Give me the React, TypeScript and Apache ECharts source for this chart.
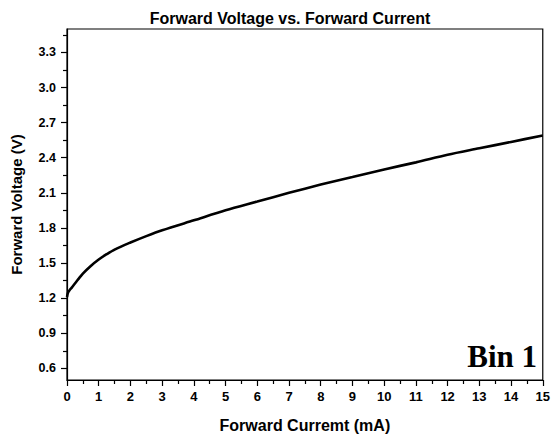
import React, { useEffect, useRef } from "react";
import * as echarts from "echarts";

const currentMA: number[] = [0, 0.03, 0.08, 0.15, 0.25, 0.35, 0.5, 0.75, 1, 1.25, 1.5, 2, 2.5, 3, 4, 5, 6, 7, 8, 9, 10, 11, 12, 13, 14, 15];
const voltageV: number[] = [1.21, 1.245, 1.268, 1.29, 1.325, 1.36, 1.41, 1.475, 1.53, 1.575, 1.615, 1.675, 1.73, 1.78, 1.865, 1.95, 2.025, 2.1, 2.17, 2.235, 2.3, 2.36, 2.425, 2.48, 2.535, 2.59];
const yMajorTicks: number[] = [0.6, 0.9, 1.2, 1.5, 1.8, 2.1, 2.4, 2.7, 3.0, 3.3];
const yMinorTicks: number[] = [0.75, 1.05, 1.35, 1.65, 1.95, 2.25, 2.55, 2.85, 3.15, 3.45];

const FONT = "'Liberation Sans', Arial, Helvetica, sans-serif";

export default function App() {
  const ref = useRef<HTMLDivElement>(null);
  useEffect(() => {
    if (!ref.current) return;
    const chart = echarts.init(ref.current, null, { renderer: "svg" });
    const data = currentMA.map((x, i) => [x, voltageV[i]]);
    chart.setOption({
      animation: false,
      backgroundColor: "#fff",
      title: {
        text: "Forward Voltage vs. Forward Current",
        left: 285,
        textAlign: "center",
        top: 5,
        textStyle: { fontFamily: FONT, fontWeight: "bold", fontSize: 16, color: "#000" },
      },
      grid: {
        left: 67,
        right: 8,
        top: 29,
        bottom: 59,
        show: true,
        borderColor: "#000",
        borderWidth: 1.2,
        backgroundColor: "transparent",
      },
      xAxis: {
        type: "value",
        min: 0,
        max: 15,
        interval: 1,
        name: "Forward Curremt (mA)",
        nameLocation: "middle",
        nameGap: 37,
        nameTextStyle: { fontFamily: FONT, fontWeight: "bold", fontSize: 16, color: "#000" },
        axisLine: { show: true, lineStyle: { color: "#000", width: 1.2 } },
        axisTick: { show: true, inside: false, length: 6, lineStyle: { color: "#000", width: 1.2 } },
        minorTick: { show: true, splitNumber: 2, length: 4, lineStyle: { color: "#000", width: 1.2 } },
        axisLabel: { fontFamily: FONT, fontWeight: "bold", fontSize: 13, color: "#000", margin: 10 },
        splitLine: { show: false },
        minorSplitLine: { show: false },
      },
      yAxis: [
        {
          type: "value",
          min: 0.5,
          max: 3.5,
          position: "left",
          name: "Forward Voltage (V)",
          nameLocation: "middle",
          nameGap: 43,
          nameTextStyle: { fontFamily: FONT, fontWeight: "bold", fontSize: 15, color: "#000" },
          axisLine: { show: true, lineStyle: { color: "#000", width: 1.2 } },
          axisTick: { show: true, inside: false, length: 6, customValues: yMajorTicks, lineStyle: { color: "#000", width: 1.2 } },
          axisLabel: {
            fontFamily: FONT,
            fontWeight: "bold",
            fontSize: 12.5,
            color: "#000",
            margin: 11,
            customValues: yMajorTicks,
            formatter: (v: number) => v.toFixed(1),
          },
          splitLine: { show: false },
        },
        {
          type: "value",
          min: 0.5,
          max: 3.5,
          position: "left",
          axisLine: { show: false },
          axisTick: { show: true, inside: false, length: 4, customValues: yMinorTicks, lineStyle: { color: "#000", width: 1.2 } },
          axisLabel: { show: false },
          splitLine: { show: false },
        },
      ],
      graphic: [
        {
          type: "text",
          right: 16,
          top: 341,
          style: {
            text: "Bin 1",
            font: "bold 31px 'Liberation Serif', 'Times New Roman', serif",
            fill: "#000",
          },
        },
      ],
      series: [
        {
          type: "line",
          data,
          xAxisIndex: 0,
          yAxisIndex: 0,
          smooth: 0.3,
          showSymbol: false,
          symbol: "none",
          lineStyle: { color: "#000", width: 2.6 },
        },
      ],
    });
    return () => chart.dispose();
  }, []);
  return <div ref={ref} style={{ position: "fixed", left: 0, top: 0, width: 553, height: 439 }} />;
}
